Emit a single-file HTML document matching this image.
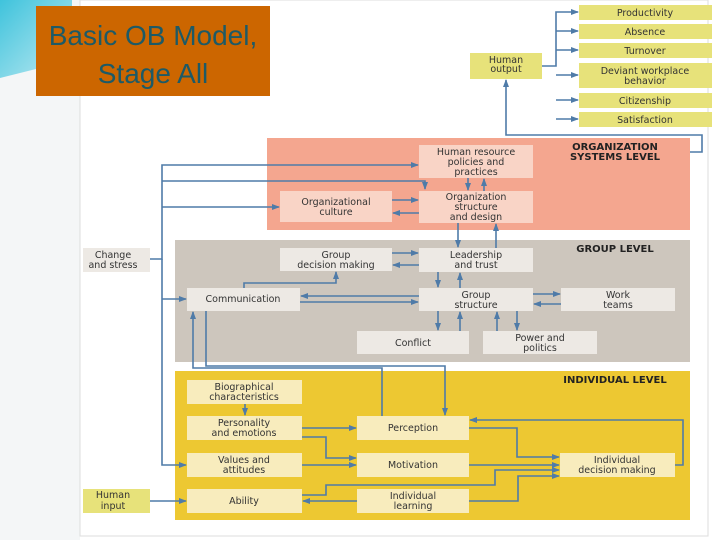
<!DOCTYPE html>
<html><head><meta charset="utf-8"><style>
body{margin:0;width:720px;height:540px;overflow:hidden;background:#fff}
svg{display:block}
text{font-family:"DejaVu Sans","Liberation Sans",sans-serif;font-size:9.5px;fill:#333;text-anchor:middle}
.h{font-weight:bold;font-size:10px;fill:#222}
</style></head><body>
<svg width="720" height="540" viewBox="0 0 720 540">
<defs>
<linearGradient id="cy" x1="0" y1="0" x2="1" y2="1"><stop offset="0" stop-color="#3fc3dc"/><stop offset="1" stop-color="#bfeaf2"/></linearGradient>
<marker id="a" markerWidth="8" markerHeight="6" refX="7" refY="3" orient="auto" markerUnits="userSpaceOnUse"><path d="M0,0L8,3L0,6z" fill="#4f7ba8"/></marker>
</defs>
<rect x="0" y="0" width="80" height="540" fill="#f4f6f7"/>
<path d="M0,0H72V60L0,78z" fill="url(#cy)"/>
<rect x="80" y="0" width="628" height="536" fill="#fff" stroke="#ddd"/>
<rect x="36" y="6" width="234" height="90" fill="#cc6600"/>
<text x="153" y="45" style="font-size:28px;fill:#1d5a66;font-family:'Liberation Sans',sans-serif">Basic OB Model,</text>
<text x="153" y="83" style="font-size:28px;fill:#1d5a66;font-family:'Liberation Sans',sans-serif">Stage All</text>

<rect x="267" y="138" width="423" height="92" fill="#f4a68f"/>
<rect x="175" y="240" width="515" height="122" fill="#cdc6bd"/>
<rect x="175" y="371" width="515" height="149" fill="#edc832"/>
<text class="h" x="615" y="150">ORGANIZATION</text>
<text class="h" x="615" y="160">SYSTEMS LEVEL</text>
<text class="h" x="615" y="252">GROUP LEVEL</text>
<text class="h" x="615" y="383">INDIVIDUAL LEVEL</text>

<g fill="#e7e27a">
<rect x="470" y="53" width="72" height="26"/>
<rect x="579" y="5" width="133" height="15"/><rect x="579" y="24" width="133" height="15"/>
<rect x="579" y="43" width="133" height="15"/><rect x="579" y="63" width="133" height="25"/>
<rect x="579" y="93" width="133" height="15"/><rect x="579" y="112" width="133" height="15"/>
<rect x="83" y="489" width="67" height="24"/>
</g>
<text x="506" y="63">Human</text><text x="506" y="72">output</text>
<text x="645" y="16">Productivity</text><text x="645" y="35">Absence</text><text x="645" y="54">Turnover</text>
<text x="645" y="74">Deviant workplace</text><text x="645" y="84">behavior</text>
<text x="645" y="104">Citizenship</text><text x="645" y="123">Satisfaction</text>
<text x="113" y="498">Human</text><text x="113" y="509">input</text>

<g fill="#f9d4c6">
<rect x="419" y="145" width="114" height="33"/><rect x="419" y="191" width="114" height="32"/><rect x="280" y="191" width="112" height="31"/>
</g>
<text x="476" y="155">Human resource</text><text x="476" y="165">policies and</text><text x="476" y="175">practices</text>
<text x="476" y="200">Organization</text><text x="476" y="210">structure</text><text x="476" y="220">and design</text>
<text x="336" y="205">Organizational</text><text x="336" y="215">culture</text>

<g fill="#ede9e4">
<rect x="83" y="248" width="67" height="24"/>
<rect x="280" y="248" width="112" height="23"/><rect x="419" y="248" width="114" height="24"/>
<rect x="187" y="288" width="113" height="23"/><rect x="419" y="288" width="114" height="23"/>
<rect x="561" y="288" width="114" height="23"/><rect x="357" y="331" width="112" height="23"/>
<rect x="483" y="331" width="114" height="23"/>
</g>
<text x="113" y="258">Change</text><text x="113" y="268">and stress</text>
<text x="336" y="258">Group</text><text x="336" y="268">decision making</text>
<text x="476" y="258">Leadership</text><text x="476" y="268">and trust</text>
<text x="243" y="302">Communication</text>
<text x="476" y="298">Group</text><text x="476" y="308">structure</text>
<text x="618" y="298">Work</text><text x="618" y="308">teams</text>
<text x="413" y="346">Conflict</text>
<text x="540" y="341">Power and</text><text x="540" y="351">politics</text>

<g fill="#f8ecbd">
<rect x="187" y="380" width="115" height="24"/><rect x="187" y="416" width="115" height="24"/>
<rect x="187" y="453" width="115" height="24"/><rect x="187" y="489" width="115" height="24"/>
<rect x="357" y="416" width="112" height="24"/><rect x="357" y="453" width="112" height="24"/>
<rect x="357" y="489" width="112" height="24"/><rect x="560" y="453" width="115" height="24"/>
</g>
<text x="244" y="390">Biographical</text><text x="244" y="400">characteristics</text>
<text x="244" y="426">Personality</text><text x="244" y="436">and emotions</text>
<text x="244" y="463">Values and</text><text x="244" y="473">attitudes</text>
<text x="244" y="504">Ability</text>
<text x="413" y="431">Perception</text><text x="413" y="468">Motivation</text>
<text x="413" y="499">Individual</text><text x="413" y="509">learning</text>
<text x="617" y="463">Individual</text><text x="617" y="473">decision making</text>

<g stroke="#4f7ba8" stroke-width="1.6" fill="none" marker-end="url(#a)">
<path d="M542,66H556V12H578"/><path d="M556,31H578"/><path d="M556,50H578"/><path d="M556,75H578"/><path d="M556,100H578"/><path d="M556,119H578"/>
<path d="M690,152H702V135H506V80"/>
<path d="M150,259H162V165H418"/><path d="M162,181H425V189"/><path d="M162,207H279"/>
<path d="M162,259V465H186"/><path d="M162,299H186"/>
<path d="M468,178V190"/><path d="M484,191V179"/>
<path d="M392,200H418"/><path d="M419,213H393"/>
<path d="M458,223V247"/><path d="M496,248V224"/>
<path d="M392,253H418"/><path d="M419,265H393"/>
<path d="M438,272V287"/><path d="M460,288V273"/>
<path d="M419,296H301"/><path d="M300,302H418"/>
<path d="M533,294H560"/><path d="M561,304H534"/>
<path d="M438,311V330"/><path d="M460,331V312"/><path d="M497,331V312"/><path d="M517,311V330"/>
<path d="M244,288V283H336V272"/>
<path d="M382,416V368H193V312"/><path d="M206,311V366H445V415"/>
<path d="M245,404V415"/>
<path d="M302,428H356"/><path d="M302,437H326V458H356"/><path d="M302,465H356"/>
<path d="M469,428H517V457H559"/><path d="M469,465H559"/>
<path d="M302,495H326V485H495V470H559"/><path d="M469,501H518V476H559"/>
<path d="M357,501H303"/><path d="M150,501H186"/>
<path d="M675,465H683V420H470"/>
</g>
</svg>
</body></html>
